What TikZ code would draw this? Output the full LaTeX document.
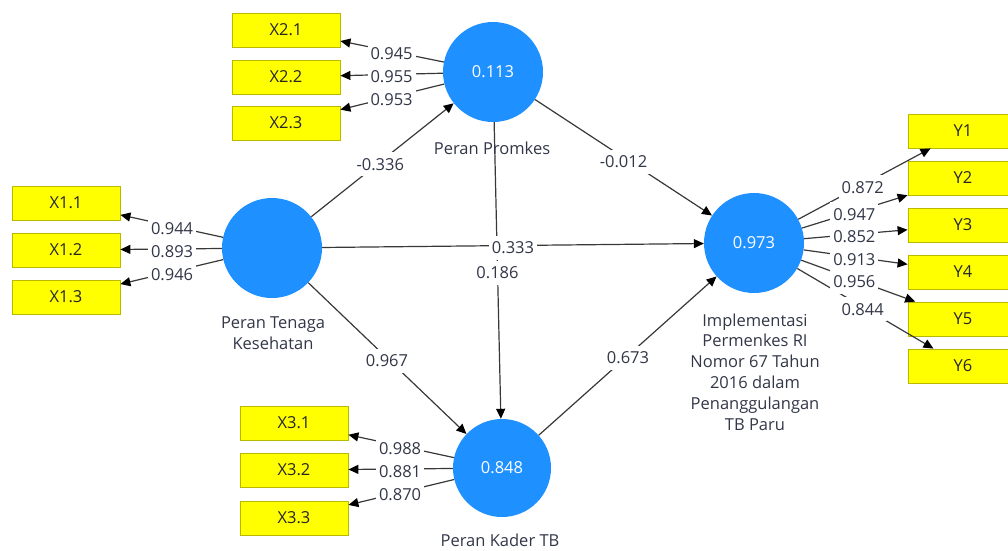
\documentclass[tikz,border=0pt]{standalone}
\usepackage{fontspec}
\setmainfont{Open Sans}
\usetikzlibrary{arrows.meta,calc}
\definecolor{lvblue}{RGB}{30,144,255}
\definecolor{mvyellow}{RGB}{255,255,0}
\definecolor{mvborder}{RGB}{185,185,0}
\definecolor{txtdark}{RGB}{50,55,72}
\begin{document}
\begin{tikzpicture}[x=1pt,y=-1pt,
  font=\fontsize{16.5}{20.8}\selectfont,
  lv/.style={circle, fill=lvblue, draw=none, minimum size=100pt, inner sep=0pt, text=white},
  mv/.style={rectangle, fill=mvyellow, draw=mvborder, line width=0.8pt, minimum width=108pt, minimum height=34pt, inner sep=0pt, text=black!85},
  ymv/.style={mv, minimum width=110pt},
  conn/.style={draw=black!78, line width=1.2pt, -{Triangle[length=10pt,width=9pt,black]}},
  lbl/.style={fill=white, inner xsep=3pt, inner ysep=0pt, minimum height=24pt, text=txtdark, yshift=-2.5pt},
  captxt/.style={align=center, text=txtdark, inner sep=0pt}]
\useasboundingbox (0,0) rectangle (1008,550);
\clip (0,0) rectangle (1008,550);
% indicator boxes
\node[mv] (x21) at (286,30) {X2.1};
\node[mv] (x22) at (286,77) {X2.2};
\node[mv] (x23) at (286,123) {X2.3};
\node[mv] (x11) at (66,203) {X1.1};
\node[mv] (x12) at (66,250) {X1.2};
\node[mv] (x13) at (66,297) {X1.3};
\node[mv] (x31) at (294,423) {X3.1};
\node[mv] (x32) at (294,470) {X3.2};
\node[mv] (x33) at (294,518) {X3.3};
\node[ymv] (y1) at (963,131) {Y1};
\node[ymv] (y2) at (963,178) {Y2};
\node[ymv] (y3) at (963,225) {Y3};
\node[ymv] (y4) at (963,272) {Y4};
\node[ymv] (y5) at (963,319) {Y5};
\node[ymv] (y6) at (963,366) {Y6};
% latent variables
\node[lv] (ptk) at (272,248) {};
\node[lv] (pp) at (493,72) {0.113};
\node[lv] (imp) at (754,243) {0.973};
\node[lv, minimum size=98pt] (ktb) at (502,468) {0.848};
% outer loadings
\foreach \a/\b in {pp/x21,pp/x22,pp/x23,ptk/x11,ptk/x12,ptk/x13,ktb/x31,ktb/x32,ktb/x33,imp/y1,imp/y2,imp/y3,imp/y4,imp/y5,imp/y6}
  \draw[conn] (\a) -- (\b);
% structural paths
\draw[conn] (ptk) -- (pp);
\draw[conn] (pp) -- (imp);
\draw[conn] (ptk) -- (imp);
\draw[conn] (pp) -- (ktb);
\draw[conn] (ptk) -- (ktb);
\draw[conn] (ktb) -- (imp);
% labels
\node[lbl] at ($(pp)!0.49!(x21)$) {0.945};
\node[lbl] at ($(pp)!0.49!(x22)$) {0.955};
\node[lbl] at ($(pp)!0.49!(x23)$) {0.953};
\node[lbl] at ($(ptk)!0.485!(x11)$) {0.944};
\node[lbl] at ($(ptk)!0.485!(x12)$) {0.893};
\node[lbl] at ($(ptk)!0.485!(x13)$) {0.946};
\node[lbl] at ($(ktb)!0.49!(x31)$) {0.988};
\node[lbl] at ($(ktb)!0.49!(x32)$) {0.881};
\node[lbl] at ($(ktb)!0.49!(x33)$) {0.870};
\node[lbl] at ($(imp)!0.52!(y1)$) {0.872};
\node[lbl] at ($(imp)!0.48!(y2)$) {0.947};
\node[lbl] at ($(imp)!0.48!(y3)$) {0.852};
\node[lbl] at ($(imp)!0.48!(y4)$) {0.913};
\node[lbl] at ($(imp)!0.48!(y5)$) {0.956};
\node[lbl] at ($(imp)!0.52!(y6)$) {0.844};
\node[lbl] at ($(ptk)!0.49!(pp)$) {-0.336};
\node[lbl] at ($(pp)!0.5!(imp)+(0,2)$) {-0.012};
\node[lbl] at ($(ptk)!0.5!(imp)$) {0.333};
\node[lbl] at ($(pp)!0.5!(ktb)$) {0.186};
\node[lbl] at ($(ptk)!0.5!(ktb)$) {0.967};
\node[lbl] at ($(ktb)!0.5!(imp)$) {0.673};
% captions
\node[captxt] (cpp) at (492,148) {Peran Promkes};
\node[captxt] (cptk) at (273,333) {Peran Tenaga\\Kesehatan};
\node[captxt] (cimp) at (755,372) {Implementasi\\Permenkes RI\\Nomor 67 Tahun\\2016 dalam\\Penanggulangan\\TB Paru};
\node[captxt] (cktb) at (500,540.5) {Peran Kader TB};
\end{tikzpicture}
\end{document}
